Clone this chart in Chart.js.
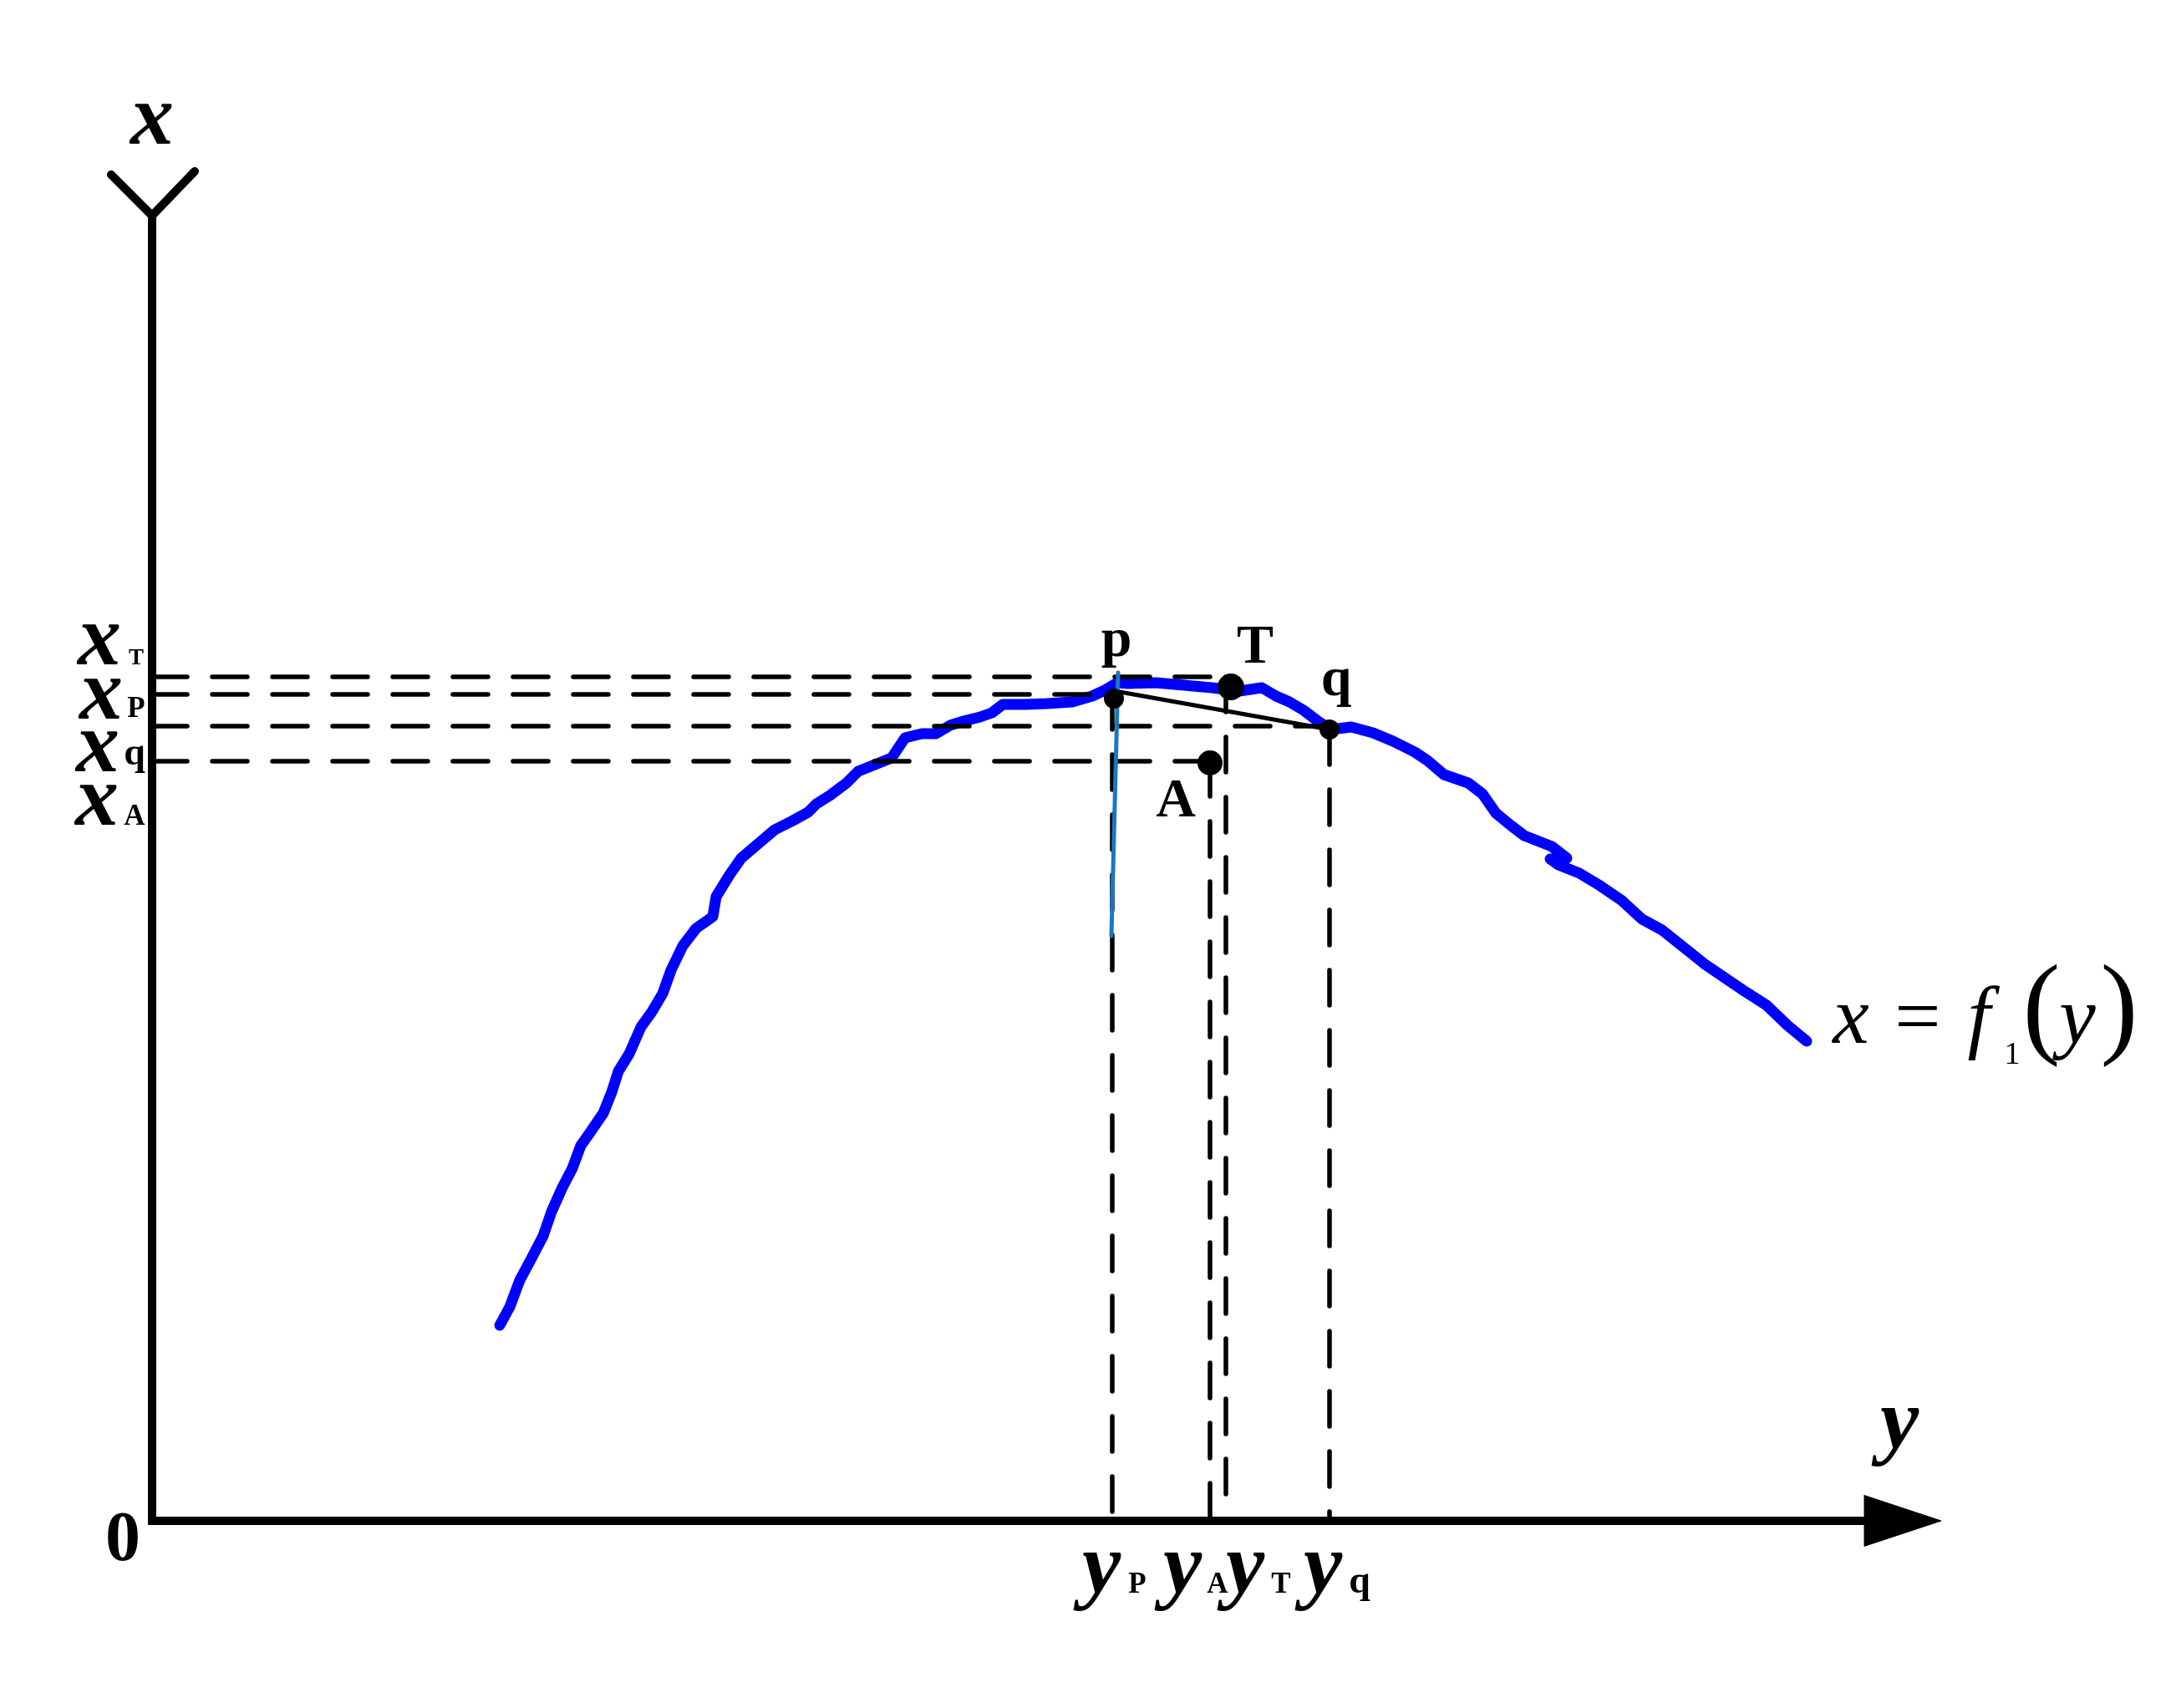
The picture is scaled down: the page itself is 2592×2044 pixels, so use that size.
<!DOCTYPE html>
<html>
<head>
<meta charset="utf-8">
<script src="https://cdn.jsdelivr.net/npm/chart.js@4"></script>
<style>
  html, body { margin: 0; padding: 0; background: #fff; overflow: hidden; }
  canvas { display: block; }
</style>
</head>
<body>
<canvas id="chart" width="2592" height="2044"></canvas>
<script>
// ===== data (horizontal axis = y, vertical axis = x) =====

// curve x = f1(y)
const CURVE_H = [20.8, 21.4, 22.0, 22.75, 23.4, 23.9, 24.55, 25.15, 25.65, 26.25, 27.0, 27.5, 27.9, 28.55,
  29.25, 29.9, 30.55, 31.05, 31.75, 32.55, 33.55, 33.75, 34.55, 35.25, 36.25, 37.25, 38.25, 39.25, 39.75,
  40.55, 41.55, 42.25, 43.25, 44.25, 45.05, 46.05, 46.9, 47.75, 48.55, 49.55, 50.25, 50.9, 52.25, 53.55,
  55.05, 56.25, 56.9, 57.75, 58.4, 60.05, 61.75, 63.4, 65.05, 66.4, 67.25, 68.05, 68.9, 69.75, 70.55,
  71.75, 73.05, 74.25, 75.55, 76.3, 77.3, 78.75, 79.6, 80.4, 81.25, 82.1, 83.75, 84.65, 83.65, 84.15,
  85.4, 86.65, 87.9, 89.15, 90.35, 91.6, 92.85, 94.1, 95.35, 96.6, 97.85, 99.0];
const CURVE_V = [11.7, 12.8, 14.4, 15.8, 17.05, 18.5, 19.95, 21.1, 22.45, 23.3, 24.4, 25.65, 26.9, 27.95,
  29.55, 30.45, 31.55, 32.95, 34.4, 35.45, 36.15, 37.35, 38.65, 39.65, 40.5, 41.35, 41.85, 42.4, 42.9,
  43.4, 44.15, 44.85, 45.25, 45.65, 46.85, 47.1, 47.1, 47.6, 47.85, 48.1, 48.35, 48.85, 48.85, 48.9,
  49.0, 49.35, 49.65, 50.15, 50.1, 50.15, 50.0, 49.85, 49.65, 49.85, 49.35, 49.0, 48.5, 47.85, 47.35,
  47.5, 47.15, 46.65, 46.0, 45.5, 44.65, 44.15, 43.5, 42.35, 41.65, 41.0, 40.35, 39.65, 39.6, 39.25,
  38.75, 38.0, 37.15, 36.0, 35.35, 34.35, 33.35, 32.5, 31.65, 30.85, 29.65, 28.7];

// marked points
const POINT_NAMES = ['p', 'T', 'q', 'A'];
const POINT_H = [57.55, 64.55, 70.45, 63.3];
const POINT_V = [49.2, 49.9, 47.35, 45.35];

// horizontal dashed levels x_T, x_P, x_q, x_A and where they stop
const LEVEL_V = [50.5, 49.45, 47.55, 45.45];
const LEVEL_END_H = [64.25, 57.45, 70.45, 63.3];

// vertical dashed drops y_P, y_A, y_T, y_q and where they start
const DROP_H = [57.45, 63.3, 64.25, 70.45];
const DROP_TOP_V = [49.45, 45.45, 50.5, 47.35];

// chord p -> q and the thin tangent through p
const CHORD_H = [57.9, 70.45];
const CHORD_V = [49.6, 47.35];
const TANGENT_H = [57.8, 57.4];
const TANGENT_V = [50.75, 35.0];

// axes with arrows
const AXIS_H = [0, 0, 102.45];
const AXIS_V = [78.1, 0, 0];
const ARROW_V_H = [-2.45, 0, 2.55];
const ARROW_V_V = [80.55, 78.1, 80.75];
const ARROW_H_H = [102.45, 107.05, 102.45, 102.45];
const ARROW_H_V = [1.52, 0, -1.52, 1.52];

const pts = (hs, vs) => hs.map((h, i) => ({ x: h, y: vs[i] }));

const SERIF = '"Liberation Serif", "Times New Roman", serif';
const BI = 'bold italic 104px ' + SERIF;

function lineSet(data, color, width, extra = {}) {
  return {
    data, showLine: true, borderColor: color, borderWidth: width,
    pointRadius: 0, tension: 0, fill: false, clip: false,
    borderCapStyle: 'round', borderJoinStyle: 'round', ...extra
  };
}

const datasets = [];
datasets.push({
  data: pts(POINT_H, POINT_V), showLine: false, pointRadius: [12, 16, 12, 15],
  backgroundColor: '#000', borderWidth: 0, order: 0, clip: false
});
datasets.push(lineSet(pts(TANGENT_H, TANGENT_V), '#1a78c2', 5, { order: 1 }));
datasets.push(lineSet(pts(CHORD_H, CHORD_V), '#000', 5, { order: 2 }));
LEVEL_V.forEach((v, i) => datasets.push(lineSet(
  [{ x: 0, y: v }, { x: LEVEL_END_H[i], y: v }], '#000', 5.5, { borderDash: [42, 30], order: 3 })));
DROP_H.forEach((h, i) => datasets.push(lineSet(
  [{ x: h, y: DROP_TOP_V[i] }, { x: h, y: 0 }], '#000', 5.5, { borderDash: [42, 30], order: 3 })));
datasets.push(lineSet(pts(CURVE_H, CURVE_V), '#0000ff', 13, { order: 4 }));
datasets.push(lineSet(pts(AXIS_H, AXIS_V), '#000', 10, { borderJoinStyle: 'miter', borderCapStyle: 'butt', order: 5 }));
datasets.push(lineSet(pts(ARROW_V_H, ARROW_V_V), '#000', 10, { borderJoinStyle: 'miter', order: 5 }));
datasets.push(lineSet(pts(ARROW_H_H, ARROW_H_V), '#000', 1, { fill: 'shape', backgroundColor: '#000', order: 5 }));

// text labels, anchored in data units
const SUB = 'bold 35px ' + SERIF;
const SUBQ = 'bold 46px ' + SERIF;
const LABELS = [
  ['x', 0, 82.4, BI], ['y', 104.55, 4.35, BI], ['0', -1.75, -2.35, 'bold 84px ' + SERIF],
  ['x', -3.15, 51.25, BI], ['T', -0.95, 51.25, 'bold 27px ' + SERIF],
  ['x', -3.05, 48.0, BI], ['P', -0.95, 48.1, SUB],
  ['x', -3.25, 44.85, BI], ['q', -1.05, 45.25, SUBQ],
  ['x', -3.3, 41.65, BI], ['A', -1.05, 41.65, SUB],
  ['y', 56.8, -4.3, BI], ['P', 58.95, -4.3, SUB],
  ['y', 61.65, -4.3, BI], ['A', 63.75, -4.3, SUB],
  ['y', 65.4, -4.3, BI], ['T', 67.55, -4.3, SUB],
  ['y', 70.05, -4.3, BI], ['q', 72.25, -4.3, SUBQ],
  ['p', 57.7, 51.75, 'bold 66px ' + SERIF], ['T', 66.0, 51.35, 'bold 66px ' + SERIF],
  ['q', 70.85, 49.4, 'bold 66px ' + SERIF], ['A', 61.25, 42.15, 'bold 66px ' + SERIF],
  // x = f1(y)
  ['x', 101.65, 28.6, 'italic 98px ' + SERIF], ['=', 105.65, 28.6, '98px ' + SERIF],
  ['f', 109.3, 28.6, 'italic 98px ' + SERIF], ['1', 111.3, 27.35, '38px ' + SERIF],
  ['(', 113.05, 28.6, '135px ' + SERIF], ['y', 115.2, 28.6, 'italic 98px ' + SERIF],
  [')', 117.7, 28.6, '135px ' + SERIF]
];

const textPlugin = {
  id: 'texts',
  beforeDraw(chart) {
    const ctx = chart.ctx;
    ctx.save();
    ctx.fillStyle = '#fff';
    ctx.fillRect(0, 0, chart.width, chart.height);
    ctx.restore();
  },
  afterDatasetsDraw(chart) {
    const { ctx, scales: { x, y } } = chart;
    ctx.save();
    ctx.fillStyle = '#000';
    ctx.textAlign = 'center';
    ctx.textBaseline = 'alphabetic';
    LABELS.forEach(([t, h, v, font]) => {
      ctx.font = font;
      ctx.fillText(t, x.getPixelForValue(h), y.getPixelForValue(v));
    });
    ctx.restore();
  }
};

new Chart(document.getElementById('chart'), {
  type: 'scatter',
  data: { datasets },
  options: {
    responsive: false, animation: false, devicePixelRatio: 1,
    layout: { padding: 0, autoPadding: false },
    plugins: { legend: { display: false }, tooltip: { enabled: false } },
    scales: {
      x: { type: 'linear', min: -9.1, max: 120.5, display: false },
      y: { type: 'linear', min: -11.2, max: 91, display: false }
    }
  },
  plugins: [textPlugin]
});
</script>
</body>
</html>
